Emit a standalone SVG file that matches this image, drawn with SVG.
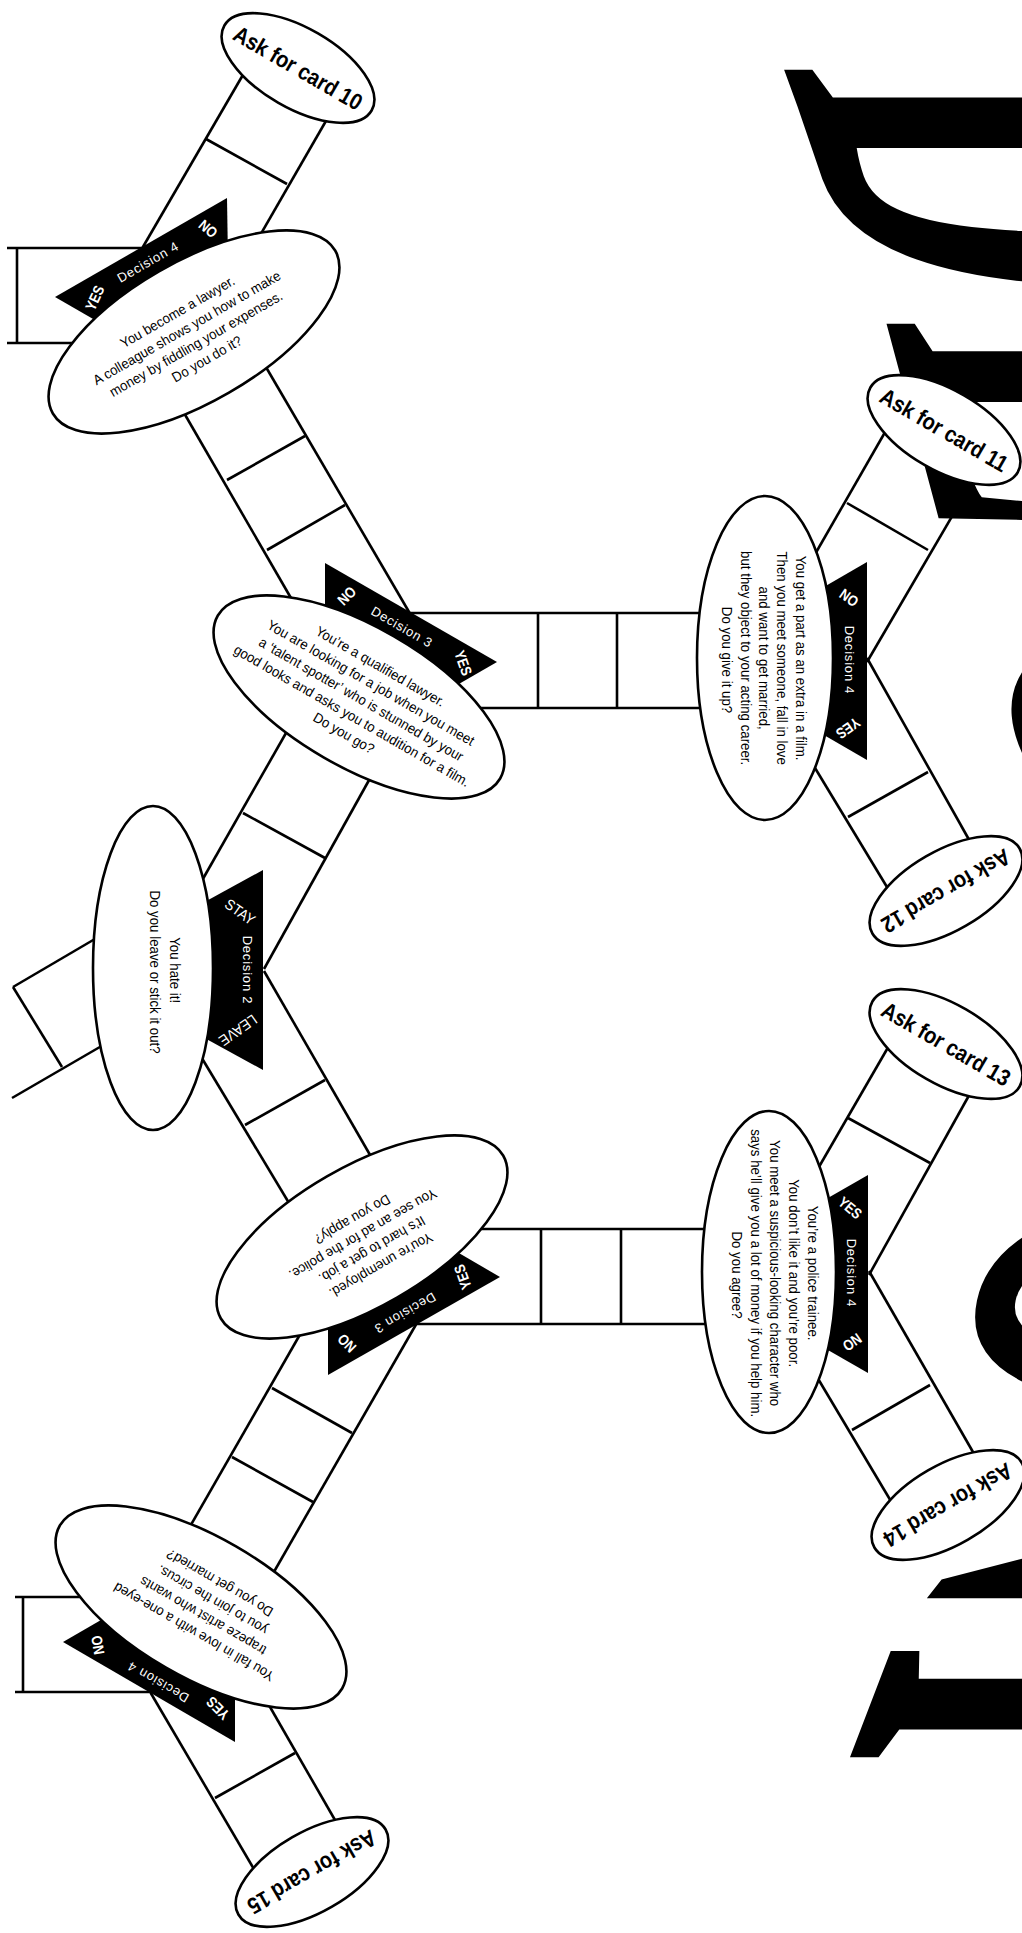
<svg xmlns="http://www.w3.org/2000/svg" width="1022" height="1933" viewBox="0 0 1022 1933">
<style>
.trk line{stroke:#000;stroke-width:2.6;fill:none}
.ell{fill:#fff;stroke:#000;stroke-width:2.6}
.ban{fill:#000}
.body{font-family:"Liberation Sans",Arial,sans-serif;font-size:14px;fill:#000;text-anchor:middle}
.card{font-family:"Liberation Sans",Arial,sans-serif;font-size:23px;font-weight:bold;fill:#000;text-anchor:middle}
.dec{font-family:"Liberation Sans",Arial,sans-serif;font-size:13px;fill:#fff;text-anchor:middle;letter-spacing:0.8px}
.yn{font-family:"Liberation Sans",Arial,sans-serif;font-size:15px;font-weight:bold;fill:#fff;text-anchor:middle}
.big{font-family:"Liberation Serif","Times New Roman",serif;font-size:330px;font-weight:bold;fill:#000}
</style>
<rect width="1022" height="1933" fill="#fff"/>

<g id="title">
  <text class="big" transform="translate(782,64) rotate(90) skewY(-20) scale(1,2.4)">D</text>
  <text class="big" transform="translate(885,318) rotate(90) skewY(-15) scale(1,2.4)">E</text>
  <text class="big" transform="translate(1008,585) rotate(90) skewY(-5) scale(1,2.4)">C</text>
  <text class="big" transform="translate(1030,825) rotate(90) scale(0.8,2.4)">I</text>
  <text class="big" transform="translate(1030,928) rotate(90) scale(0.75,2.4)">S</text>
  <text class="big" transform="translate(1030,1065) rotate(90) scale(0.8,2.4)">I</text>
  <text class="big" transform="translate(1012,1172) rotate(90) skewY(12) scale(1,2.4)">O</text>
  <text class="big" transform="translate(1088,1392) rotate(90) skewY(38) scale(1,2.4)">N</text>
  <text class="big" transform="translate(895,1640) rotate(90) skewY(21) scale(1,2.4)">I</text>
</g>

<g id="connectors" class="trk">
  <line x1="251" y1="61" x2="140" y2="252"/>
  <line x1="334" y1="107" x2="255" y2="244"/>
  <line x1="206" y1="139" x2="287" y2="184"/>
  <line x1="7" y1="248" x2="150" y2="248"/>
  <line x1="7" y1="343" x2="90" y2="343"/>
  <line x1="17" y1="248" x2="17" y2="343"/>
  <line x1="180" y1="406" x2="295" y2="605"/>
  <line x1="263" y1="362" x2="412" y2="617"/>
  <line x1="227" y1="480" x2="305" y2="436"/>
  <line x1="267" y1="550" x2="345" y2="505"/>
  <line x1="405" y1="613" x2="708" y2="613"/>
  <line x1="475" y1="708" x2="708" y2="708"/>
  <line x1="538" y1="613" x2="538" y2="708"/>
  <line x1="617" y1="613" x2="617" y2="708"/>
  <line x1="290" y1="726" x2="200" y2="884"/>
  <line x1="373" y1="773" x2="264" y2="969"/>
  <line x1="243" y1="813" x2="325" y2="858"/>
  <line x1="100" y1="936" x2="13" y2="987"/>
  <line x1="105" y1="1044" x2="12" y2="1098"/>
  <line x1="13" y1="987" x2="62" y2="1067"/>
  <line x1="200" y1="1055" x2="295" y2="1213"/>
  <line x1="264" y1="971" x2="377" y2="1167"/>
  <line x1="245" y1="1125" x2="325" y2="1080"/>
  <line x1="475" y1="1229" x2="710" y2="1229"/>
  <line x1="405" y1="1324" x2="710" y2="1324"/>
  <line x1="541" y1="1229" x2="541" y2="1324"/>
  <line x1="621" y1="1229" x2="621" y2="1324"/>
  <line x1="302" y1="1331" x2="188" y2="1530"/>
  <line x1="418" y1="1321" x2="271" y2="1577"/>
  <line x1="272" y1="1388" x2="352" y2="1433"/>
  <line x1="232" y1="1457" x2="313" y2="1502"/>
  <line x1="15" y1="1597" x2="85" y2="1597"/>
  <line x1="15" y1="1692" x2="149" y2="1692"/>
  <line x1="23" y1="1597" x2="23" y2="1692"/>
  <line x1="149" y1="1690" x2="258" y2="1876"/>
  <line x1="266" y1="1700" x2="339" y2="1827"/>
  <line x1="215" y1="1798" x2="295" y2="1753"/>
  <line x1="888" y1="427" x2="814" y2="556"/>
  <line x1="975" y1="477" x2="867" y2="662"/>
  <line x1="847" y1="503" x2="928" y2="550"/>
  <line x1="812" y1="763" x2="893" y2="897"/>
  <line x1="867" y1="658" x2="972" y2="845"/>
  <line x1="848" y1="817" x2="928" y2="772"/>
  <line x1="890" y1="1044" x2="816" y2="1172"/>
  <line x1="972" y1="1090" x2="869" y2="1275"/>
  <line x1="848" y1="1118" x2="930" y2="1163"/>
  <line x1="817" y1="1377" x2="895" y2="1508"/>
  <line x1="869" y1="1271" x2="977" y2="1459"/>
  <line x1="852" y1="1430" x2="930" y2="1385"/>
</g>

<g id="card10">
  <ellipse class="ell" cx="298" cy="68" rx="85" ry="40" transform="rotate(30 298 68)"/>
  <text class="card" transform="translate(298,68) rotate(30) scale(0.87,1)" y="8">Ask for card 10</text>
</g>

<g id="decision4-lawyer">
  <polygon class="ban" points="55,297 227,198 228,262 107,327"/>
  <ellipse class="ell" cx="194" cy="332" rx="163" ry="70" transform="rotate(-30 194 332)"/>
  <text class="yn" transform="translate(95,298) rotate(-65) scale(0.85,1)" y="5">YES</text>
  <text class="dec" transform="translate(148,262) rotate(-30)" y="4.5">Decision 4</text>
  <text class="yn" transform="translate(208,229) rotate(40) scale(0.85,1)" y="5">NO</text>
  <text class="body" transform="translate(193,335) rotate(-30) scale(0.95,1)">
    <tspan x="0" y="-23">You become a lawyer.</tspan>
    <tspan x="0" y="-4.5">A colleague shows you how to make</tspan>
    <tspan x="0" y="14">money by fiddling your expenses.</tspan>
    <tspan x="0" y="32.5">Do you do it?</tspan>
  </text>
</g>

<g id="decision3-lawyer">
  <polygon class="ban" points="325,563 497,662 445,692 325,650"/>
  <ellipse class="ell" cx="359" cy="697" rx="163" ry="70" transform="rotate(30 359 697)"/>
  <text class="yn" transform="translate(347,596) rotate(-45) scale(0.85,1)" y="5">NO</text>
  <text class="dec" transform="translate(402,627) rotate(30)" y="4.5">Decision 3</text>
  <text class="yn" transform="translate(463,663) rotate(70) scale(0.85,1)" y="5">YES</text>
  <text class="body" transform="translate(363,700) rotate(30) scale(0.95,1)">
    <tspan x="0" y="-33">You’re a qualified lawyer.</tspan>
    <tspan x="0" y="-14">You are looking for a job when you meet</tspan>
    <tspan x="0" y="5">a ‘talent spotter’ who is stunned by your</tspan>
    <tspan x="0" y="24">good looks and asks you to audition for a film.</tspan>
    <tspan x="0" y="43">Do you go?</tspan>
  </text>
</g>

<g id="decision2">
  <polygon class="ban" points="190,910 263,870 263,1070 190,1030"/>
  <ellipse class="ell" cx="153" cy="968" rx="60" ry="162"/>
  <text class="yn" style="font-weight:normal" transform="translate(240,912) rotate(35) scale(0.9,1)" y="5">STAY</text>
  <text class="dec" transform="translate(247,970) rotate(90)" y="4.5">Decision 2</text>
  <text class="yn" style="font-weight:normal" transform="translate(238,1030) rotate(145) scale(0.9,1)" y="5">LEAVE</text>
  <text class="body" transform="translate(165,972) rotate(90) scale(0.95,1)">
    <tspan x="0" y="-5">You hate it!</tspan>
    <tspan x="0" y="15">Do you leave or stick it out?</tspan>
  </text>
</g>

<g id="decision3-police">
  <polygon class="ban" points="328,1300 328,1375 500,1277 440,1242"/>
  <ellipse class="ell" cx="362" cy="1237" rx="163" ry="70" transform="rotate(-30 362 1237)"/>
  <text class="yn" transform="translate(347,1343) rotate(225) scale(0.85,1)" y="5">NO</text>
  <text class="dec" transform="translate(405,1313) rotate(150)" y="4.5">Decision 3</text>
  <text class="yn" transform="translate(463,1277) rotate(-110) scale(0.85,1)" y="5">YES</text>
  <text class="body" transform="translate(366,1243) rotate(150) scale(0.95,1)">
    <tspan x="0" y="-22">You’re unemployed.</tspan>
    <tspan x="0" y="-4">It’s hard to get a job.</tspan>
    <tspan x="0" y="14">You see an ad for the police.</tspan>
    <tspan x="0" y="32">Do you apply?</tspan>
  </text>
</g>

<g id="decision4-circus">
  <polygon class="ban" points="63,1642 120,1609 235,1690 235,1742"/>
  <ellipse class="ell" cx="201" cy="1607" rx="163" ry="70" transform="rotate(30 201 1607)"/>
  <text class="yn" transform="translate(98,1645) rotate(-100) scale(0.85,1)" y="5">NO</text>
  <text class="dec" transform="translate(158,1682) rotate(210)" y="4.5">Decision 4</text>
  <text class="yn" transform="translate(218,1708) rotate(225) scale(0.85,1)" y="5">YES</text>
  <text class="body" transform="translate(206,1607) rotate(210) scale(0.95,1)">
    <tspan x="0" y="-23">You fall in love with a one-eyed</tspan>
    <tspan x="0" y="-4.5">trapeze artist who wants</tspan>
    <tspan x="0" y="14">you to join the circus.</tspan>
    <tspan x="0" y="32.5">Do you get married?</tspan>
  </text>
</g>

<g id="card15">
  <ellipse class="ell" cx="312" cy="1872" rx="85" ry="40" transform="rotate(-30 312 1872)"/>
  <text class="card" transform="translate(312,1872) rotate(150) scale(0.87,1)" y="8">Ask for card 15</text>
</g>

<g id="card11">
  <ellipse class="ell" cx="944" cy="430" rx="85" ry="40" transform="rotate(30 944 430)"/>
  <text class="card" transform="translate(944,430) rotate(30) scale(0.87,1)" y="8">Ask for card 11</text>
</g>

<g id="decision4-film">
  <polygon class="ban" points="798,602 867,562 867,760 798,720"/>
  <ellipse class="ell" cx="765" cy="658" rx="68" ry="162"/>
  <text class="yn" transform="translate(849,598) rotate(35) scale(0.85,1)" y="5">NO</text>
  <text class="dec" transform="translate(849,660) rotate(90)" y="4.5">Decision 4</text>
  <text class="yn" transform="translate(848,728) rotate(145) scale(0.85,1)" y="5">YES</text>
  <text class="body" transform="translate(764,660) rotate(90) scale(0.95,1)">
    <tspan x="0" y="-31.6">You get a part as an extra in a film.</tspan>
    <tspan x="0" y="-13.3">Then you meet someone, fall in love</tspan>
    <tspan x="0" y="5">and want to get married,</tspan>
    <tspan x="0" y="23.3">but they object to your acting career.</tspan>
    <tspan x="0" y="41.6">Do you give it up?</tspan>
  </text>
</g>

<g id="card12">
  <ellipse class="ell" cx="946" cy="891" rx="85" ry="40" transform="rotate(-30 946 891)"/>
  <text class="card" transform="translate(946,891) rotate(150) scale(0.87,1)" y="8">Ask for card 12</text>
</g>

<g id="card13">
  <ellipse class="ell" cx="946" cy="1044" rx="85" ry="40" transform="rotate(30 946 1044)"/>
  <text class="card" transform="translate(946,1044) rotate(30) scale(0.87,1)" y="8">Ask for card 13</text>
</g>

<g id="decision4-trainee">
  <polygon class="ban" points="800,1214 868,1175 868,1373 800,1334"/>
  <ellipse class="ell" cx="769" cy="1272" rx="67" ry="161"/>
  <text class="yn" transform="translate(850,1208) rotate(40) scale(0.85,1)" y="5">YES</text>
  <text class="dec" transform="translate(851,1273) rotate(90)" y="4.5">Decision 4</text>
  <text class="yn" transform="translate(852,1342) rotate(145) scale(0.85,1)" y="5">NO</text>
  <text class="body" transform="translate(775,1275) rotate(90) scale(0.95,1)">
    <tspan x="0" y="-33">You’re a police trainee.</tspan>
    <tspan x="0" y="-14">You don’t like it and you’re poor.</tspan>
    <tspan x="0" y="5">You meet a suspicious-looking character who</tspan>
    <tspan x="0" y="24">says he’ll give you a lot of money if you help him.</tspan>
    <tspan x="0" y="43">Do you agree?</tspan>
  </text>
</g>

<g id="card14">
  <ellipse class="ell" cx="948" cy="1505" rx="85" ry="40" transform="rotate(-30 948 1505)"/>
  <text class="card" transform="translate(948,1505) rotate(150) scale(0.87,1)" y="8">Ask for card 14</text>
</g>
</svg>
